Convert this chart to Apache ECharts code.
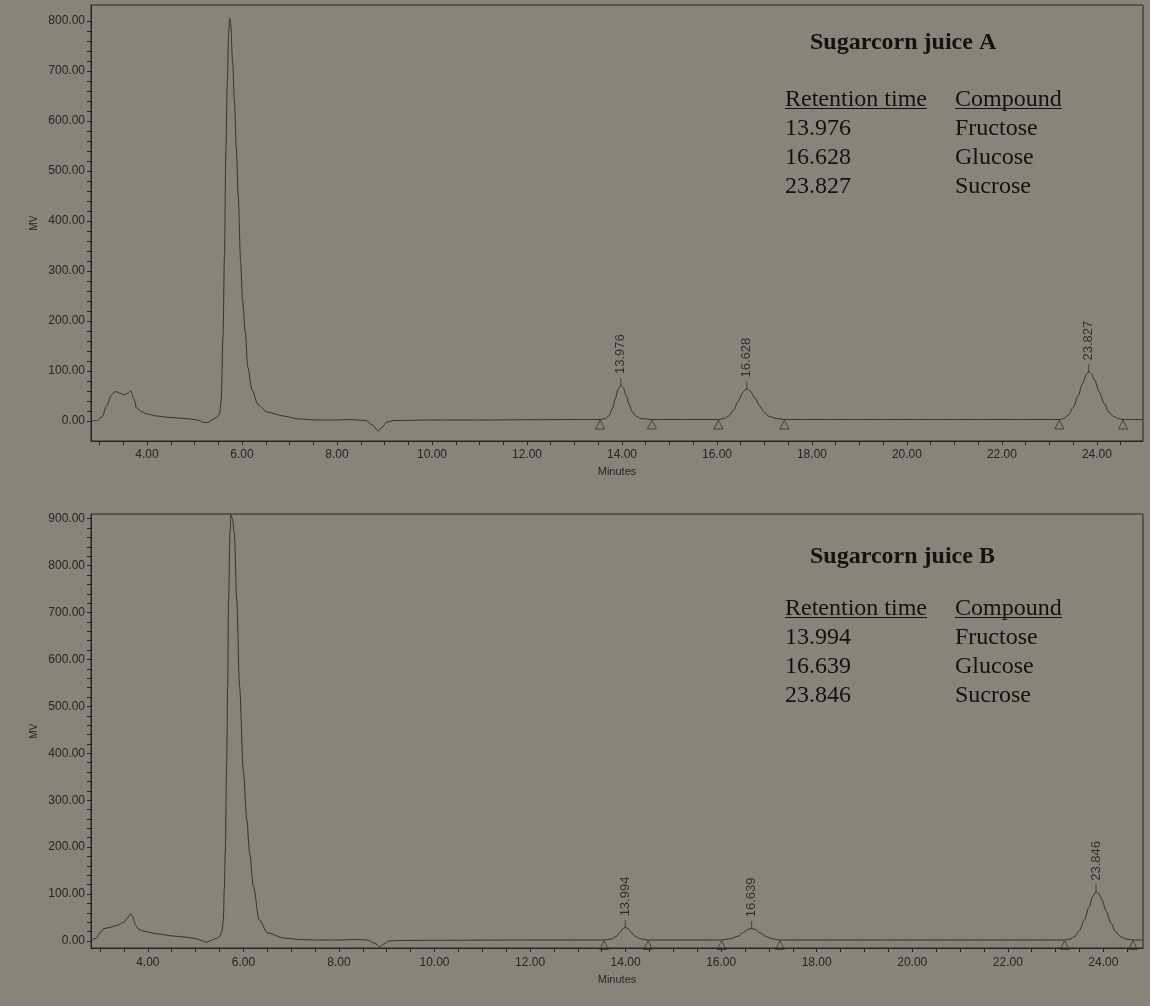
<!DOCTYPE html>
<html>
<head>
<meta charset="utf-8">
<title>Sugarcorn juice chromatograms</title>
<script src="https://cdn.jsdelivr.net/npm/echarts@6/dist/echarts.min.js"></script>
<style>
  html, body { margin: 0; padding: 0; background: #8b8279; }
  #chart { width: 1150px; height: 1006px; }
</style>
</head>
<body>
<div id="chart"></div>
<script>
// ---- data (minutes, mV) ----
var traceA = [
  [2.82, 0], [2.95, 1], [3.05, 8], [3.15, 30], [3.25, 52], [3.33, 59], [3.42, 56], [3.52, 52],
  [3.60, 56], [3.66, 60], [3.72, 45], [3.78, 26], [3.88, 19], [4.0, 14], [4.2, 10], [4.5, 7],
  [4.8, 5], [5.0, 3], [5.1, 1], [5.2, -3], [5.28, -3], [5.38, 3], [5.48, 8], [5.53, 15],
  [5.56, 40], [5.60, 170], [5.63, 330], [5.66, 540], [5.69, 680], [5.72, 780], [5.74, 805],
  [5.76, 795], [5.80, 720], [5.84, 640], [5.88, 545], [5.92, 450], [5.97, 320], [6.01, 242],
  [6.07, 176], [6.12, 108], [6.21, 62], [6.34, 32], [6.53, 18], [6.87, 10], [7.2, 4], [7.6, 2],
  [8.0, 2], [8.3, 3], [8.6, 1], [8.75, -8], [8.87, -20], [8.95, -12], [9.05, -2], [9.2, 1],
  [10.0, 2], [11.0, 2], [12.0, 2.5], [13.0, 3], [13.55, 3],
  [13.65, 5], [13.72, 10], [13.80, 25], [13.86, 45], [13.92, 64], [13.976, 72], [14.03, 66],
  [14.09, 50], [14.15, 33], [14.22, 18], [14.30, 9], [14.40, 5], [14.5, 4], [14.63, 3],
  [15.3, 3], [16.03, 3], [16.15, 5], [16.25, 10], [16.35, 22], [16.45, 40], [16.55, 58],
  [16.628, 65], [16.70, 60], [16.80, 46], [16.90, 30], [17.00, 17], [17.10, 9], [17.25, 5],
  [17.42, 3], [19.0, 3], [21.0, 3], [23.21, 3],
  [23.3, 5], [23.4, 12], [23.5, 27], [23.6, 50], [23.7, 75], [23.78, 94], [23.827, 99],
  [23.88, 95], [23.95, 82], [24.05, 58], [24.15, 35], [24.25, 18], [24.35, 9], [24.45, 5],
  [24.55, 3], [24.97, 3]
];
var traceB = [
  [2.81, 0], [2.92, 6], [3.0, 18], [3.08, 26], [3.2, 29], [3.35, 33], [3.5, 40], [3.58, 50],
  [3.64, 58], [3.68, 52], [3.74, 34], [3.82, 24], [3.95, 20], [4.2, 15], [4.5, 11], [4.8, 8],
  [5.0, 5], [5.15, 0], [5.22, -3], [5.3, 0], [5.42, 5], [5.5, 9], [5.55, 20], [5.58, 45],
  [5.60, 110], [5.62, 188], [5.65, 380], [5.67, 542], [5.69, 727], [5.72, 870], [5.74, 908],
  [5.77, 900], [5.81, 870], [5.86, 727], [5.92, 542], [6.0, 360], [6.07, 259], [6.13, 188],
  [6.21, 116], [6.33, 45], [6.51, 17], [6.85, 6], [7.2, 3], [7.6, 2], [8.0, 2], [8.4, 3],
  [8.6, 2], [8.75, -5], [8.85, -12], [8.95, -6], [9.05, 0], [9.3, 1], [10.0, 1.5], [12.0, 2],
  [13.55, 2],
  [13.7, 4], [13.8, 9], [13.88, 18], [13.94, 26], [13.994, 29], [14.05, 26], [14.12, 18],
  [14.2, 10], [14.3, 5], [14.47, 2], [15.2, 2],
  [16.01, 2], [16.2, 5], [16.35, 10], [16.45, 17], [16.55, 24], [16.639, 27], [16.72, 24],
  [16.82, 17], [16.95, 9], [17.05, 5], [17.23, 2], [19.0, 2], [21.0, 2], [23.19, 2],
  [23.3, 4], [23.4, 9], [23.5, 22], [23.6, 44], [23.7, 72], [23.78, 95], [23.846, 105],
  [23.9, 101], [23.97, 88], [24.06, 63], [24.16, 38], [24.26, 19], [24.36, 9], [24.48, 4],
  [24.62, 2], [24.83, 2]
];
// peak apex (retention time, height)
var peaksA = [[13.976, 72], [16.628, 65], [23.827, 99]];
var peaksB = [[13.994, 29], [16.639, 27], [23.846, 105]];
// integration start / end markers
var marksA = [[13.54, 3], [14.63, 3], [16.03, 3], [17.42, 3], [23.21, 3], [24.55, 3]];
var marksB = [[13.55, 2], [14.47, 2], [16.01, 2], [17.23, 2], [23.19, 2], [24.62, 2]];
// axis labels
var xLabels = [4, 6, 8, 10, 12, 14, 16, 18, 20, 22, 24];
var yLabelsA = [0, 100, 200, 300, 400, 500, 600, 700, 800];
var yLabelsB = [0, 100, 200, 300, 400, 500, 600, 700, 800, 900];
// text tables
var titles = ['Sugarcorn juice A', 'Sugarcorn juice B'];
var header = ['Retention time', 'Compound'];
var timesA = ['13.976', '16.628', '23.827'];
var timesB = ['13.994', '16.639', '23.846'];
var compounds = ['Fructose', 'Glucose', 'Sucrose'];

var INK = '#2b2521';
var LINE = '#39322c';

// minor ticks every 0.5 min / 20 mV
function steps(from, to, step) {
  var out = [];
  for (var v = from; v <= to + 1e-9; v += step) out.push(+v.toFixed(2));
  return out;
}

function xAxis(idx, min, max, margin, gap) {
  return {
    type: 'value', gridIndex: idx, min: min, max: max,
    name: 'Minutes', nameLocation: 'middle', nameGap: gap,
    nameTextStyle: { color: INK, fontSize: 11, fontFamily: 'Liberation Sans' },
    axisLine: { show: true, onZero: false, lineStyle: { color: INK, width: 1 } },
    axisTick: { show: true, length: 4, customValues: steps(3, 24.5, 0.5), lineStyle: { color: INK } },
    axisLabel: {
      customValues: xLabels, margin: margin, color: INK, fontSize: 12, fontFamily: 'Liberation Sans',
      formatter: function (v) { return v.toFixed(2); }
    },
    splitLine: { show: false }
  };
}

function yAxis(idx, min, max, labels) {
  return {
    type: 'value', gridIndex: idx, min: min, max: max,
    name: 'MV', nameLocation: 'middle', nameGap: 52, nameRotate: 90, nameMoveOverlap: false,
    nameTextStyle: { color: INK, fontSize: 10, fontFamily: 'Liberation Sans' },
    axisLine: { show: true, onZero: false, lineStyle: { color: INK, width: 1 } },
    axisTick: { show: true, length: 4, customValues: steps(0, labels[labels.length - 1], 20), lineStyle: { color: INK } },
    axisLabel: {
      customValues: labels, margin: 6, color: INK, fontSize: 12, fontFamily: 'Liberation Sans',
      formatter: function (v) { return v.toFixed(2); }
    },
    splitLine: { show: false }
  };
}

function trace(idx, data) {
  return {
    type: 'line', xAxisIndex: idx, yAxisIndex: idx, data: data,
    showSymbol: false, smooth: 0.3, smoothMonotone: 'x',
    lineStyle: { color: LINE, width: 1 }, z: 3
  };
}

function peakLabels(idx, data) {
  return {
    type: 'scatter', xAxisIndex: idx, yAxisIndex: idx, data: data,
    symbol: 'rect', symbolSize: [1, 8], symbolOffset: [0, -3],
    itemStyle: { color: LINE },
    label: {
      show: true, position: 'top', rotate: 90, align: 'left', verticalAlign: 'middle', distance: 4,
      color: '#1e1915', fontSize: 13, fontFamily: 'Liberation Sans',
      formatter: function (p) { return p.value[0].toFixed(3); }
    }, z: 4
  };
}

function baseMarks(idx, data) {
  return {
    type: 'scatter', xAxisIndex: idx, yAxisIndex: idx, data: data,
    symbol: 'triangle', symbolSize: [9, 9], symbolOffset: [0, 5],
    itemStyle: { color: 'rgba(0,0,0,0)', borderColor: LINE, borderWidth: 1 }, z: 4
  };
}

// retention table drawn as text graphics
function table(title, times, titleTop, t) {
  var serif = '"Liberation Serif", "DejaVu Serif", serif';
  var ink = '#15110e';
  var g = [];
  g.push({ type: 'text', left: 810, top: titleTop, style: { text: title, font: 'bold 24px ' + serif, fill: ink } });
  g.push({ type: 'text', left: 785, top: t, style: { text: header[0], font: '24px ' + serif, fill: ink } });
  g.push({ type: 'text', left: 955, top: t, style: { text: header[1], font: '24px ' + serif, fill: ink } });
  g.push({ type: 'line', shape: { x1: 785, y1: t + 20.5, x2: 927, y2: t + 20.5 }, style: { stroke: ink, lineWidth: 1.2 } });
  g.push({ type: 'line', shape: { x1: 955, y1: t + 20.5, x2: 1062, y2: t + 20.5 }, style: { stroke: ink, lineWidth: 1.2 } });
  for (var i = 0; i < times.length; i++) {
    g.push({ type: 'text', left: 785, top: t + 29 + i * 29, style: { text: times[i], font: '24px ' + serif, fill: ink } });
    g.push({ type: 'text', left: 955, top: t + 29 + i * 29, style: { text: compounds[i], font: '24px ' + serif, fill: ink } });
  }
  return g;
}

var chart = echarts.init(document.getElementById('chart'));
chart.setOption({
  animation: false,
  backgroundColor: '#8b8279',
  grid: [
    { left: 91, top: 5, width: 1052, height: 436, show: true, borderColor: INK, borderWidth: 1, backgroundColor: 'transparent' },
    { left: 91, top: 514, width: 1052, height: 434, show: true, borderColor: INK, borderWidth: 1, backgroundColor: 'transparent' }
  ],
  xAxis: [xAxis(0, 2.82, 24.97, 8, 25), xAxis(1, 2.81, 24.83, 9, 26)],
  yAxis: [yAxis(0, -40, 832, yLabelsA), yAxis(1, -15, 910, yLabelsB)],
  series: [
    trace(0, traceA), peakLabels(0, peaksA), baseMarks(0, marksA),
    trace(1, traceB), peakLabels(1, peaksB), baseMarks(1, marksB)
  ],
  graphic: table(titles[0], timesA, 30.5, 88).concat(table(titles[1], timesB, 545, 597))
});
</script>
</body>
</html>
